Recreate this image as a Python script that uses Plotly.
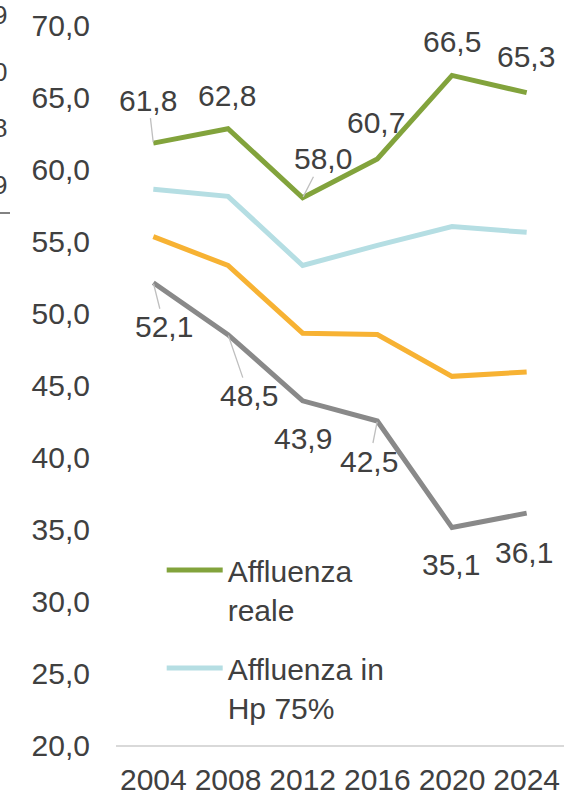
import plotly.graph_objects as go

years = ["2004", "2008", "2012", "2016", "2020", "2024"]
affluenza_reale = [61.8, 62.8, 58.0, 60.7, 66.5, 65.3]
affluenza_hp75 = [58.6, 58.1, 53.3, 54.7, 56.0, 55.6]
serie_arancio = [55.3, 53.3, 48.6, 48.5, 45.6, 45.9]
serie_grigia = [52.1, 48.5, 43.9, 42.5, 35.1, 36.1]

y_ticks = [20, 25, 30, 35, 40, 45, 50, 55, 60, 65, 70]

FONT = "Liberation Sans, Arial, sans-serif"
TXT = "#404040"
FS = 30

fig = go.Figure()
fig.add_trace(go.Scatter(x=years, y=affluenza_reale, mode="lines", name="Affluenza<br>reale",
                         legendgroup="a", line=dict(color="#82A33C", width=5)))
fig.add_trace(go.Scatter(x=years, y=affluenza_hp75, mode="lines", name="Affluenza in<br>Hp 75%",
                         legendgroup="b", line=dict(color="#B5DEE3", width=5)))
fig.add_trace(go.Scatter(x=years, y=serie_arancio, mode="lines", showlegend=False,
                         line=dict(color="#F7B233", width=5)))
fig.add_trace(go.Scatter(x=years, y=serie_grigia, mode="lines", showlegend=False,
                         line=dict(color="#898989", width=5)))

def fmt(v):
    return f"{v:.1f}".replace(".", ",")

# label offsets (px) and whether a leader line is drawn
green_off = [(-5, -43, True), (-1, -33, False), (20, -39, True), (-1, -36, False), (0, -34, False), (-1, -36, False)]
gray_off = [(11, 44, True), (21, 61, True), (0, 38, False), (-8, 40, True), (-1, 37, False), (-3, 39, False)]

ann = []
for vals, offs in ((affluenza_reale, green_off), (serie_grigia, gray_off)):
    for i, (v, (dx, dy, lead)) in enumerate(zip(vals, offs)):
        if lead:
            ann.append(dict(x=i, y=v, xref="x", yref="y", text=fmt(v), showarrow=True,
                            ax=dx, ay=dy, arrowhead=0, arrowwidth=1.3, arrowcolor="#BFBFBF",
                            standoff=1, font=dict(family=FONT, size=FS, color=TXT)))
        else:
            ann.append(dict(x=i, y=v, xref="x", yref="y", text=fmt(v), showarrow=False,
                            xshift=dx, yshift=-dy, font=dict(family=FONT, size=FS, color=TXT)))

# partially visible remnants at the left edge
for txt, ypx in (("9", 15), ("0", 72), ("8", 128), ("9", 185)):
    ann.append(dict(xref="paper", yref="paper", x=(9 - 116) / 448, y=(745 - ypx) / 720,
                    xanchor="right", yanchor="middle", text=txt, showarrow=False,
                    font=dict(family=FONT, size=26, color=TXT)))

fig.update_layout(
    width=564, height=795,
    margin=dict(l=116, r=0, t=25, b=50, autoexpand=False),
    paper_bgcolor="white", plot_bgcolor="white",
    separators=",.",
    font=dict(family=FONT, size=FS, color=TXT),
    showlegend=True,
    legend=dict(x=0.102, y=0.279, xanchor="left", yanchor="top",
                font=dict(family=FONT, size=FS, color=TXT), bgcolor="rgba(0,0,0,0)",
                valign="top", tracegroupgap=17, itemwidth=56),
    xaxis=dict(type="category", range=[-0.5, 5.5], showgrid=False, showline=True,
               linecolor="#D9D9D9", linewidth=1.5, ticks="", ticklabelstandoff=7,
               automargin=False,
               tickfont=dict(family=FONT, size=FS, color=TXT), fixedrange=True),
    yaxis=dict(range=[20, 70], tickvals=y_ticks, tickformat=".1f", showgrid=False,
               zeroline=False, showline=False, ticks="", ticklabelstandoff=25,
               automargin=False,
               tickfont=dict(family=FONT, size=FS, color=TXT), fixedrange=True),
    annotations=ann,
    shapes=[dict(type="line", xref="paper", yref="paper", x0=(0 - 116) / 448, x1=(10 - 116) / 448,
                 y0=(745 - 213) / 720, y1=(745 - 213) / 720, line=dict(color="#595959", width=1.5))],
)

fig.write_html("out.html", config={"displayModeBar": False},
               post_script="document.body.style.margin='0';document.body.style.overflow='hidden';")
